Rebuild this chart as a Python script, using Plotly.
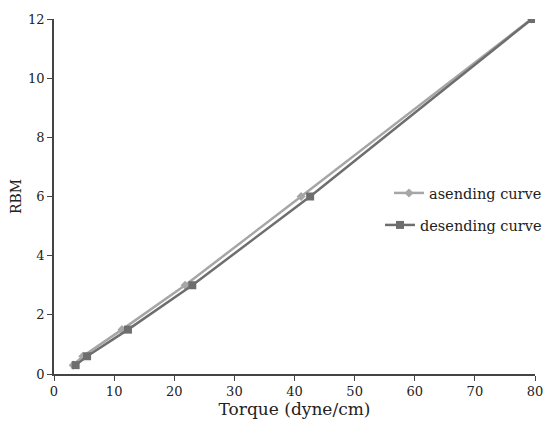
import plotly.graph_objects as go

asc_x = [3.2, 4.8, 11.3, 21.8, 41.1, 79.4]
asc_y = [0.3, 0.6, 1.5, 3, 6, 12]
desc_x = [3.6, 5.5, 12.3, 23.0, 42.6, 79.5]
desc_y = [0.3, 0.6, 1.5, 3, 6, 12]

x_ticks = [0, 10, 20, 30, 40, 50, 60, 70, 80]
y_ticks = [0, 2, 4, 6, 8, 10, 12]

font = "DejaVu Serif, serif"

fig = go.Figure()
fig.add_trace(go.Scatter(x=asc_x, y=asc_y, mode="lines+markers", name="asending curve",
                         line=dict(color="#a6a6a6", width=2.5),
                         marker=dict(symbol="diamond", size=7, color="#a6a6a6"),
                         legend="legend"))
fig.add_trace(go.Scatter(x=desc_x, y=desc_y, mode="lines+markers", name="desending curve",
                         line=dict(color="#6e6e6e", width=2.5),
                         marker=dict(symbol="square", size=8, color="#6e6e6e"),
                         legend="legend2"))

leg_common = dict(xanchor="right", yanchor="middle", bgcolor="rgba(0,0,0,0)",
                  font=dict(size=14.5, color="#222222"), itemwidth=30,
                  borderwidth=0)

fig.update_layout(
    width=547, height=427,
    margin=dict(l=54, r=0, t=19, b=53),
    paper_bgcolor="white", plot_bgcolor="white",
    font=dict(family=font, size=13, color="#222222"),
    showlegend=True,
    legend=dict(x=1, y=(374 - 193) / 355, **leg_common),
    legend2=dict(x=1, y=(374 - 225) / 355, **leg_common),
    xaxis=dict(range=[0, 80], tickvals=x_ticks, showgrid=False, zeroline=False,
               domain=[0, 481 / 493],
               showline=True, linecolor="#444444", linewidth=1.5, automargin=False,
               ticks="outside", ticklen=5, tickcolor="#444444",
               title=dict(text="Torque (dyne/cm)", font=dict(size=17), standoff=5)),
    yaxis=dict(range=[0, 12], tickvals=y_ticks, showgrid=False, zeroline=False,
               showline=True, linecolor="#444444", linewidth=1.5, automargin=False,
               ticks="outside", ticklen=5, tickcolor="#444444",
               title=dict(text="RBM", font=dict(size=14), standoff=3)),
)

fig.write_html("out.html", config={"displayModeBar": False},
               post_script="document.body.style.margin='0px';document.body.style.overflow='hidden';")
